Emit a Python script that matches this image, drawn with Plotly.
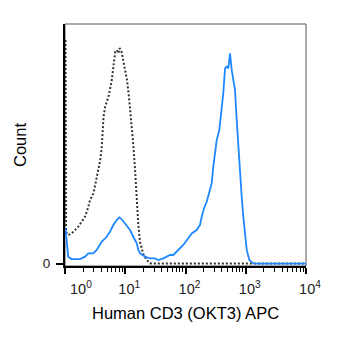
import plotly.graph_objects as go

# Isotype control (dotted gray) - intensity and count
iso_x = [1.02, 1.04, 1.13, 1.29, 1.47, 1.66, 1.89, 2.15, 2.44, 2.60,
         2.97, 3.40, 3.84, 4.08, 4.36, 4.65, 5.27, 5.98, 6.81, 7.24,
         7.73, 8.03, 8.57, 9.00, 9.72, 10.7, 11.5, 12.5, 13.4, 14.5,
         15.5, 16.5, 17.6, 19.9, 22.7, 25.8, 37.7, 10000]
iso_y = [93.3, 13.2, 11.9, 12.6, 14.0, 15.4, 17.5, 19.6, 23.7, 26.5,
         29.3, 36.3, 43.2, 48.8, 61.3, 65.5, 69.7, 76.6, 88.4, 89.1,
         87.8, 89.9, 89.1, 86.4, 82.2, 76.6, 69.7, 60.8, 51.6, 39.9,
         26.5, 16.1, 9.0, 4.0, 1.5, 0.1, 0, 0]

# CD3 stained sample (blue)
cd3_x = [1.02, 1.13, 1.29, 1.77, 2.15, 2.44, 2.95, 3.36, 4.06, 4.92,
         5.58, 6.34, 7.21, 7.96, 8.73, 9.91, 12.0, 13.6, 15.5, 16.5,
         17.6, 21.3, 25.8, 31.2, 35.4, 42.8, 55.3, 62.7, 76.0, 91.9,
         111, 127, 153, 174, 186, 203, 225, 255, 272, 289,
         309, 330, 364, 399, 424, 453, 483, 513, 548, 584,
         621, 663, 708, 752, 803, 857, 911, 972, 1038, 1146,
         1334, 1725, 10000]
cd3_y = [14.7, 2.9, 1.9, 1.9, 2.9, 4.3, 4.3, 5.7, 9.1, 11.2,
         13.3, 16.1, 18.2, 19.3, 18.5, 16.8, 14.0, 11.2, 8.5, 5.7,
         4.3, 2.9, 2.2, 2.2, 1.5, 2.2, 3.6, 3.6, 5.7, 7.8,
         10.6, 12.6, 14.0, 16.1, 19.6, 23.1, 25.8, 30.7, 33.5, 40.4,
         46.0, 51.6, 55.8, 64.1, 71.1, 81.5, 82.2, 81.5, 87.8, 80.8,
         75.9, 72.5, 59.9, 48.8, 39.1, 27.8, 19.6, 12.6, 5.7, 1.5,
         0.1, 0, 0]

x_tickvals = [1, 10, 100, 1000, 10000]
x_ticktext = ["", "10<sup>1</sup>", "10<sup>2</sup>", "10<sup>3</sup>", "10<sup>4</sup>"]
first_label = "10<sup>0</sup>"
minor_vals = [m * d for d in [1, 10, 100, 1000] for m in range(2, 10)]

x_title = "Human CD3 (OKT3) APC"
y_title = "Count"

FONT = "Arial, Liberation Sans, sans-serif"

fig = go.Figure()
fig.add_trace(go.Scatter(x=iso_x, y=iso_y, mode="lines",
                         line=dict(color="#333333", width=2, dash="2px,2px"),
                         hoverinfo="skip", showlegend=False))
fig.add_trace(go.Scatter(x=cd3_x, y=cd3_y, mode="lines",
                         line=dict(color="#1e88ff", width=1.8),
                         hoverinfo="skip", showlegend=False))

fig.update_layout(
    width=350, height=346,
    margin=dict(l=65, r=44, t=24, b=80),
    paper_bgcolor="white", plot_bgcolor="white",
    font=dict(family=FONT, color="black"),
    showlegend=False,
    xaxis=dict(type="log", range=[0, 4], showgrid=False, zeroline=False,
               showline=True, linecolor="black", linewidth=2,
               ticks="outside", ticklen=6, tickwidth=1.5, tickcolor="black",
               tickvals=x_tickvals, ticktext=x_ticktext,
               tickfont=dict(size=14.5, family=FONT, color="#222222"),
               ticklabelshift=4, ticklabelstandoff=3,
               minor=dict(tickvals=minor_vals, ticks="outside", ticklen=3.5,
                          tickwidth=1, tickcolor="black", showgrid=False)),
    yaxis=dict(range=[-1, 100], showgrid=False, zeroline=False,
               showline=True, linecolor="black", linewidth=2,
               ticks="outside", ticklen=7, tickwidth=1.5, tickcolor="black",
               tickvals=[0], ticktext=["0"], ticklabelstandoff=3,
               tickfont=dict(size=13.5, family=FONT, color="#222222")),
    shapes=[dict(type="rect", xref="paper", yref="paper", x0=0, x1=1, y0=0, y1=1,
                 line=dict(color="#555555", width=1), layer="below")],
    annotations=[
        dict(text=x_title, xref="paper", yref="paper", x=0.5, y=0, yshift=-47,
             showarrow=False, xanchor="center", yanchor="middle",
             font=dict(size=16.5, family=FONT, color="black")),
        dict(text=y_title, xref="paper", yref="paper", x=0, y=0.5, xshift=-45,
             showarrow=False, xanchor="center", yanchor="middle", textangle=-90,
             font=dict(size=16.5, family=FONT, color="black")),
        dict(text=first_label, xref="x", yref="paper", x=0, y=0, xshift=16, yshift=-22,
             showarrow=False, xanchor="center", yanchor="middle",
             font=dict(size=14.5, family=FONT, color="#222222")),
    ],
)

fig.write_html("out.html")
